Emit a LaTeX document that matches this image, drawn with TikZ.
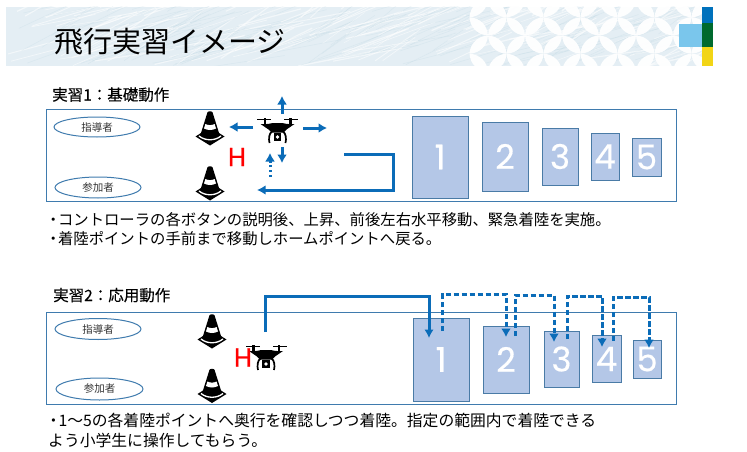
\documentclass[tikz,border=0pt]{standalone}
\usepackage{fontspec}
\setmainfont{Noto Sans CJK JP}
\newfontfamily\cjkmed[FakeBold=0.35]{Noto Sans CJK JP}
\newfontfamily\numfont[FakeBold=0.35]{Poppins}
\newfontfamily\hfont[FakeBold=0.8]{Poppins}
\usetikzlibrary{arrows.meta,shapes.geometric,calc}
\definecolor{flow}{HTML}{0B6CB8}
\definecolor{frameblue}{HTML}{3F7BAE}
\definecolor{boxfill}{HTML}{B4C7E7}
\definecolor{boxline}{HTML}{4A7BA6}
\definecolor{bannerbg}{HTML}{E4EEF4}
\definecolor{stripeblue}{HTML}{0071BC}
\definecolor{stripegreen}{HTML}{006A2E}
\definecolor{stripeyellow}{HTML}{F2D516}
\definecolor{squareblue}{HTML}{7AC6EC}
\newcommand{\dotkern}{・\hspace{-3pt}}
\newcommand{\fwcolon}{\symbol{"FF1A}}
\newcommand{\fwtilde}{\symbol{"FF5E}}
\tikzset{
 x=1pt,y=-1pt,
 panel/.style={draw=frameblue,line width=1pt},
 person/.style={ellipse,draw=frameblue,line width=1pt,inner sep=0pt,font=\fontsize{10.5}{10.5}\selectfont,text=black!80},
 landbox/.style={draw=boxline,line width=1pt,fill=boxfill,inner sep=0pt,text=white,font=\fontsize{34}{34}\numfont},
 bodytxt/.style={anchor=base west,inner sep=0pt,font=\fontsize{15.35}{15.35}\selectfont},
 bodytxtb/.style={anchor=base west,inner sep=0pt,font=\fontsize{15.8}{15.8}\selectfont},
 headtxt/.style={anchor=base west,inner sep=0pt,font=\fontsize{15.5}{15.5}\cjkmed},
 helipad/.style={text=red,inner sep=0pt,font=\fontsize{26}{26}\hfont},
 main/.style={draw=flow,line width=3pt,-{Latex[length=8.5pt,width=9.5pt]}},
 small/.style={draw=flow,line width=3pt,-{Latex[length=8.5pt,width=10pt]}},
 dashflow/.style={draw=flow,line width=3pt,dash pattern=on 5.5pt off 2.5pt,-{Latex[length=8.5pt,width=10pt]}},
 dotflow/.style={draw=flow,line width=3pt,dash pattern=on 2.4pt off 2.4pt,-{Latex[length=8.5pt,width=10pt]}},
 cone/.pic={
  \fill[black] (-14.5,25)--(-9,21.5)--(9,21.5)--(14.5,25)--(0,34)--cycle;
  \draw[white,line width=1.3pt] (-11,24.5) .. controls (-5,29.5) and (5,29.5) .. (11,24.5);
  \fill[black] (-2.6,1) .. controls (-2,-.6) and (2,-.6) .. (2.6,1) -- (9.5,23)
     .. controls (5,28) and (-5,28) .. (-9.5,23) -- cycle;
  \fill[white] (-4.6,12.5) .. controls (-2,14) and (2,14) .. (4.6,12.5) -- (6,17)
     .. controls (2.5,19) and (-2.5,19) .. (-6,17) -- cycle;
 },
 drone/.pic={
  \fill[black] (-20.5,-.8) rectangle (-6.5,.8);
  \fill[black] (6.5,-.8) rectangle (20.5,.8);
  \fill[black] (-14,-2) rectangle (-11.5,6);
  \fill[black] (11.5,-2) rectangle (14,6);
  \fill[black] (-17,4.5) .. controls (-10,5) and (-7,4) .. (-5,3.5) -- (5,3.5)
     .. controls (7,4) and (10,5) .. (17,4.5) -- (9,10) -- (6,13) -- (-6,13) -- (-9,10) -- cycle;
  \draw[black,line width=1.7pt] (-5.5,12) .. controls (-8.5,14) and (-9,19) .. (-8,23.5);
  \draw[black,line width=1.7pt] (5.5,12) .. controls (8.5,14) and (9,19) .. (8,23.5);
  \fill[black] (-3.8,13) rectangle (3.8,21);
  \fill[white] (0,17.5) circle (1.9);
 },
}
\begin{document}
\begin{tikzpicture}
\useasboundingbox (0,0) rectangle (747,452);
\fill[white] (0,0) rectangle (747,452);
% banner
\begin{scope}
 \clip (6,7) rectangle (702,66);
 \fill[bannerbg] (6,7) rectangle (702,66);
 \pgfmathsetseed{4711}
 \foreach \i in {1,...,170}{
  \pgfmathsetmacro\xa{6+rnd*696}
  \pgfmathsetmacro\ya{rnd*60+7}
  \pgfmathsetmacro\dx{30+rnd*50}
  \pgfmathsetmacro\dy{-10-rnd*22}
  \pgfmathsetmacro\lw{.4+rnd*.9}
  \draw[white,opacity=.55,line width=\lw pt] (\xa,\ya) -- ++(\dx,\dy);
  \pgfmathsetmacro\xb{6+rnd*696}
  \pgfmathsetmacro\yb{rnd*60+7}
  \draw[black!40!cyan!40,opacity=.18,line width=.5pt] (\xb,\yb) -- ++(\dx,\dy);
 }
 \foreach \cx in {0,...,6}{
  \foreach \cy in {-1,0,1,2}{
   \coordinate (c) at ({488+37*\cx},{-1+36.5*\cy});
   \foreach \sa/\sb in {-1/-1,1/-1,-1/1,1/1}{
    \fill[white,opacity=.95] (c) to[bend left=42] ($(c)+(18.5*\sa,18.25*\sb)$) to[bend left=42] (c);
   }
  }
 }
\end{scope}
\fill[stripeblue] (702,7) rectangle (713,23);
\fill[stripegreen] (702,23) rectangle (713,47);
\fill[stripeyellow] (702,47) rectangle (713,66);
\fill[squareblue] (679,24) rectangle (702,47);
\node[anchor=base west,inner sep=0pt,font=\fontsize{29}{29}\selectfont] (title) at (54,53) {飛行実習イメージ};
% section 1
\node[headtxt] (head1) at (52,100.5) {実習1\fwcolon 基礎動作};
\node[panel,minimum width=630pt,minimum height=92.5pt,inner sep=0pt] (panel1) at (361,155.7) {};
\node[person,minimum width=86pt,minimum height=20pt] (lead1) at (97,127) {指導者};
\node[person,minimum width=86pt,minimum height=21pt] (part1) at (98,187.5) {参加者};
\node[landbox,minimum width=56pt,minimum height=82pt] (a1) at (440,157) {1};
\node[landbox,minimum width=46pt,minimum height=69pt] (a2) at (505,156.5) {2};
\node[landbox,minimum width=36pt,minimum height=57pt] (a3) at (560,156.5) {3};
\node[landbox,minimum width=28pt,minimum height=47pt] (a4) at (605,156.5) {4};
\node[landbox,minimum width=29pt,minimum height=38pt] (a5) at (646.5,157) {5};
\pic at (210,111.5) {cone};
\pic at (210,166.5) {cone};
\pic at (277.5,119.5) {drone};
\node[helipad] (h1) at (237,157) {H};
\coordinate (u0) at (282,114); \coordinate (u1) at (282,96);
\coordinate (l0) at (253,127); \coordinate (l1) at (229,127);
\coordinate (r0) at (303,128); \coordinate (r1) at (327,128);
\coordinate (d0) at (282,147); \coordinate (d1) at (282,163);
\coordinate (p0) at (270,177); \coordinate (p1) at (270,153);
\coordinate (m0) at (344,154); \coordinate (m1) at (393,154); \coordinate (m2) at (393,190); \coordinate (m3) at (257,190);
\draw[small] (u0) -- (u1);
\draw[small] (l0) -- (l1);
\draw[small] (r0) -- (r1);
\draw[small] (d0) -- (d1);
\draw[dotflow] (p0) -- (p1);
\draw[main] (m0) -- (m1) -- (m2) -- (m3);
\node[bodytxt] (t1) at (45.5,225) {\dotkern コントローラの各ボタンの説明後、上昇、前後左右水平移動、緊急着陸を実施。};
\node[bodytxt] (t2) at (45.5,244) {\dotkern 着陸ポイントの手前まで移動しホームポイントへ戻る。};
% section 2
\node[headtxt] (head2) at (53,301) {実習2\fwcolon 応用動作};
\node[panel,minimum width=630pt,minimum height=92pt,inner sep=0pt] (panel2) at (361.5,358) {};
\node[person,minimum width=86pt,minimum height=21pt] (lead2) at (98,329) {指導者};
\node[person,minimum width=87pt,minimum height=22pt] (part2) at (99.5,389) {参加者};
\node[landbox,minimum width=56pt,minimum height=83pt] (b1) at (441,359.5) {1};
\node[landbox,minimum width=46pt,minimum height=67pt] (b2) at (506,359.5) {2};
\node[landbox,minimum width=35pt,minimum height=56pt] (b3) at (561.5,359) {3};
\node[landbox,minimum width=29pt,minimum height=47pt] (b4) at (606.5,359) {4};
\node[landbox,minimum width=28pt,minimum height=38pt] (b5) at (647,359) {5};
\pic at (212,314.5) {cone};
\pic at (212,369) {cone};
\pic at (266,346.5) {drone};
\node[helipad] (h2) at (243,357.5) {H};
\coordinate (s0) at (265,332); \coordinate (s1) at (265,296); \coordinate (s2) at (429,296); \coordinate (s3) at (429,338);
\draw[main] (s0) -- (s1) -- (s2) -- (s3);
\coordinate (e0) at (442.5,331); \coordinate (e1) at (442.5,294); \coordinate (e2) at (506,294); \coordinate (e3) at (506,337);
\coordinate (f0) at (515.5,336); \coordinate (f1) at (515.5,295); \coordinate (f2) at (554,295); \coordinate (f3) at (554,342);
\coordinate (g0) at (567,339); \coordinate (g1) at (567,296); \coordinate (g2) at (602,296); \coordinate (g3) at (602,347);
\coordinate (k0) at (613,341); \coordinate (k1) at (613,297); \coordinate (k2) at (649,297); \coordinate (k3) at (649,348);
\draw[dashflow] (e0) -- (e1) -- (e2) -- (e3);
\draw[dashflow] (f0) -- (f1) -- (f2) -- (f3);
\draw[dashflow] (g0) -- (g1) -- (g2) -- (g3);
\draw[dashflow] (k0) -- (k1) -- (k2) -- (k3);
\node[bodytxtb] (t3) at (45.5,426) {\dotkern 1\fwtilde 5の各着陸ポイントへ奥行を確認しつつ着陸。指定の範囲内で着陸できる};
\node[bodytxtb] (t4) at (48,446) {よう小学生に操作してもらう。};
\end{tikzpicture}
\end{document}
